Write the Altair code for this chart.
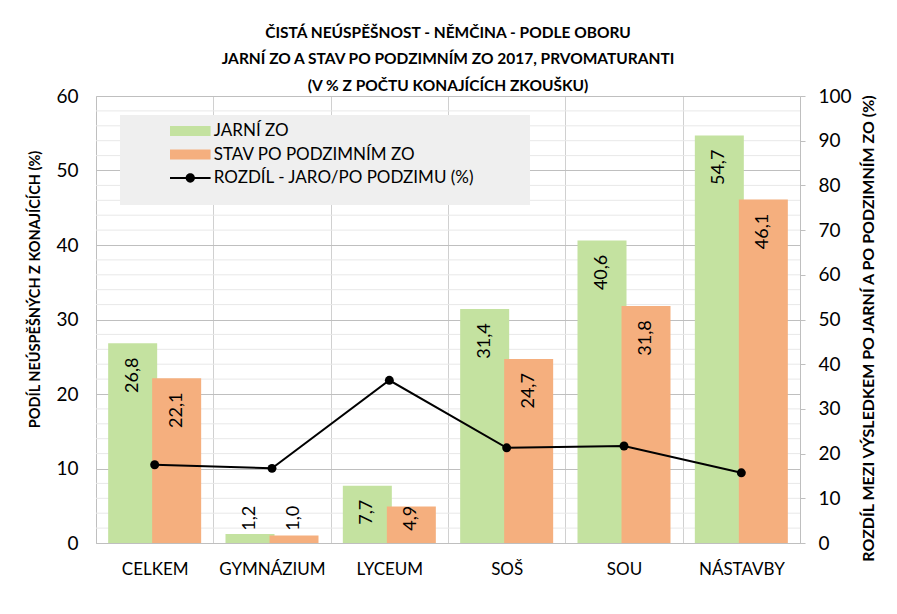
import altair as alt
import pandas as pd

categories = ["CELKEM", "GYMNÁZIUM", "LYCEUM", "SOŠ", "SOU", "NÁSTAVBY"]
jarni = [26.8, 1.2, 7.7, 31.4, 40.6, 54.7]
podzim = [22.1, 1.0, 4.9, 24.7, 31.8, 46.1]
rozdil = [17.5, 16.7, 36.4, 21.3, 21.7, 15.7]
series = ["JARNÍ ZO", "STAV PO PODZIMNÍM ZO", "ROZDÍL - JARO/PO PODZIMU (%)"]
left_ticks = [0, 10, 20, 30, 40, 50, 60]
right_ticks = [0, 10, 20, 30, 40, 50, 60, 70, 80, 90, 100]
minor_grid = [2, 4, 6, 8, 12, 14, 16, 18, 22, 24, 26, 28, 32, 34, 36, 38,
              42, 44, 46, 48, 52, 54, 56, 58]
title_lines = ["ČISTÁ NEÚSPĚŠNOST  - NĚMČINA - PODLE OBORU",
               "JARNÍ ZO A STAV PO PODZIMNÍM ZO 2017, PRVOMATURANTI",
               "(V % Z POČTU KONAJÍCÍCH ZKOUŠKU)"]

GREEN = "#C4E2A0"
ORANGE = "#F5AF7E"
FONT = "Lato"
W, H = 704, 447

df = pd.DataFrame({"kat": categories, "jarni": jarni, "podzim": podzim, "rozdil": rozdil})
base = alt.Chart(df)

xscale = alt.Scale(paddingInner=0, paddingOuter=0)
xaxis = alt.Axis(title=None, tickBand="extent", grid=True, gridColor="#d0d0d0",
                 ticks=False, domainColor="#bfbfbf", labelFont=FONT, labelFontSize=17,
                 labelColor="#000", labelPadding=18, labelAngle=0)
X = alt.X("kat:N", sort=categories, scale=xscale, axis=xaxis)
Xn = alt.X("kat:N", sort=categories, scale=xscale)

yscale = alt.Scale(domain=[0, 60], nice=False)
yaxis = alt.Axis(title="PODÍL NEÚSPĚŠNÝCH Z KONAJÍCÍCH (%)", values=left_ticks, grid=True,
                 gridColor="#bfbfbf", ticks=False, domainColor="#bfbfbf",
                 labelFont=FONT, labelFontSize=19, labelColor="#000", labelPadding=18,
                 titleFont=FONT, titleFontSize=14.5, titleFontWeight="bold", titleColor="#000",
                 titleAngle=270, titleX=-61, titleY=193, titleAlign="center",
                 titleBaseline="middle")

minor = alt.Chart(pd.DataFrame({"v": minor_grid})).mark_rule(
    color="#e8e8e8", strokeWidth=1).encode(y=alt.Y("v:Q", scale=yscale))

box = alt.Chart(pd.DataFrame({"a": [0]})).mark_rect(color="#efefef").encode(
    x=alt.value(24), x2=alt.value(434), y=alt.value(19), y2=alt.value(109))

bars_j = base.mark_bar(color=GREEN, width=49, xOffset=-22).encode(
    x=X, y=alt.Y("jarni:Q", scale=yscale, axis=yaxis))
bars_p = base.mark_bar(color=ORANGE, width=49, xOffset=22).encode(
    x=Xn, y=alt.Y("podzim:Q", scale=yscale))

lab_j = base.transform_calculate(
    ly="max(datum.jarni - 1.9, 5.0)",
    lbl="replace(format(datum.jarni, '.1f'), '.', ',')").mark_text(
    angle=270, align="right", baseline="middle", xOffset=-22, font=FONT, fontSize=18,
    color="#000").encode(x=Xn, y=alt.Y("ly:Q", scale=yscale), text="lbl:N")
lab_p = base.transform_calculate(
    ly="max(datum.podzim - 1.9, 5.0)",
    lbl="replace(format(datum.podzim, '.1f'), '.', ',')").mark_text(
    angle=270, align="right", baseline="middle", xOffset=22, font=FONT, fontSize=18,
    color="#000").encode(x=Xn, y=alt.Y("ly:Q", scale=yscale), text="lbl:N")

rect_path = "M-1.4,-0.34H1.4V0.34H-1.4Z"
line_path = ("M-1.4,-0.07H1.4V0.07H-1.4Z "
             "M-0.32,0A0.32,0.32 0 1,1 0.32,0A0.32,0.32 0 1,1 -0.32,0Z")
leg = alt.Legend(title=None, orient="none", legendX=79.8, legendY=20.5, symbolSize=841,
                 labelFont=FONT, labelFontSize=17, labelColor="#000", labelOffset=9,
                 rowPadding=0.5, padding=0, labelLimit=500, symbolStrokeWidth=0,
                 symbolOpacity=1)
legend_layer = alt.Chart(pd.DataFrame({"s": series})).transform_filter("false").mark_point(
    filled=True, opacity=1).encode(
    color=alt.Color("s:N", scale=alt.Scale(domain=series, range=[GREEN, ORANGE, "#000000"]),
                    legend=leg),
    shape=alt.Shape("s:N", scale=alt.Scale(domain=series, range=[rect_path, rect_path, line_path]),
                    legend=leg))

left = alt.layer(minor, box, bars_j, bars_p, lab_j, lab_p, legend_layer)

rscale = alt.Scale(domain=[0, 100], nice=False)
raxis = alt.Axis(title="ROZDÍL MEZI VÝSLEDKEM PO JARNÍ A PO PODZIMNÍM ZO (%)", orient="right",
                 values=right_ticks, grid=False, ticks=True, tickSize=5, tickColor="#bfbfbf",
                 domainColor="#bfbfbf", labelFont=FONT, labelFontSize=19, labelColor="#000",
                 labelPadding=13, titleFont=FONT, titleFontSize=16, titleFontWeight="bold",
                 titleColor="#000", titleAngle=270, titleX=68, titleY=232, titleAlign="center",
                 titleBaseline="middle")
line = base.mark_line(color="#000", strokeWidth=2).encode(
    x=Xn, y=alt.Y("rozdil:Q", scale=rscale, axis=raxis))
pts = base.mark_point(filled=True, size=80, color="#000", opacity=1).encode(
    x=Xn, y=alt.Y("rozdil:Q", scale=rscale))
right = alt.layer(line, pts)

chart = alt.layer(left, right).resolve_scale(y="independent").properties(
    width=W, height=H,
    autosize=alt.AutoSizeParams(type="none"),
    padding={"left": 88, "top": 88, "right": 89, "bottom": 63},
    background="white",
    title=alt.TitleParams(text=title_lines, font=FONT, fontSize=15.5, fontWeight="bold",
                          color="#000", lineHeight=26.5, anchor="middle", offset=6, dy=13),
).configure_view(stroke=None)

chart.save("out.html", embed_options={"renderer": "svg", "actions": False})
